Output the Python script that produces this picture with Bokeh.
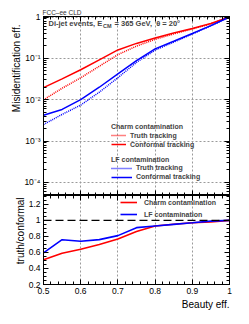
from bokeh.plotting import figure
from bokeh.layouts import column
from bokeh.models import (LogAxis, LinearAxis, LogTicker, SingleIntervalTicker, Range1d,
                          Label, Legend, LegendItem, Span, CustomJSTickFormatter, Title)
from bokeh.embed import file_html
from bokeh.resources import INLINE

# ---------------- data ----------------
beauty_eff = [0.5, 0.55, 0.6, 0.65, 0.7, 0.75, 0.8, 0.85, 0.9, 0.95, 1.0]
charm_conformal = [0.0195, 0.032, 0.053, 0.092, 0.16, 0.23, 0.31, 0.41, 0.53, 0.70, 1.0]
charm_truth = [0.0099, 0.0189, 0.0339, 0.0644, 0.123, 0.198, 0.288, 0.39, 0.514, 0.686, 1.0]
lf_conformal = [0.0042, 0.0058, 0.010, 0.020, 0.042, 0.088, 0.17, 0.26, 0.40, 0.62, 1.0]
lf_truth = [0.0025, 0.0044, 0.0074, 0.0152, 0.034, 0.080, 0.158, 0.247, 0.388, 0.614, 1.0]

x_ticks = [0.5, 0.6, 0.7, 0.8, 0.9, 1.0]
x_tick_labels = ["0.5", "0.6", "0.7", "0.8", "0.9", "1"]
top_y_ticks = [1e-4, 1e-3, 1e-2, 1e-1, 1.0]
top_y_tick_labels = ["10\u207b\u2074", "10\u207b\u00b3", "10\u207b\u00b2", "10\u207b\u00b9", "1"]
ratio_ticks = [0.2, 0.4, 0.6, 0.8, 1.0, 1.2]
ratio_tick_labels = ["0.2", "0.4", "0.6", "0.8", "1", "1.2"]

charm_ratio = [t / c for t, c in zip(charm_truth, charm_conformal)]
lf_ratio = [t / c for t, c in zip(lf_truth, lf_conformal)]

FONT = "Liberation Sans"
RED = "#ff0000"
BLUE = "#0000ff"
GRID = "#9a9a9a"


def fmt(tks, lbls, log=False):
    code = """
    for (let i = 0; i < tks.length; i++) {
        const a = uselog ? Math.log10(tks[i]) : tks[i];
        const b = uselog ? Math.log10(tick) : tick;
        if (Math.abs(a - b) < 1e-6) { return lbls[i]; }
    }
    return "";
    """
    return CustomJSTickFormatter(args=dict(tks=tks, lbls=lbls, uselog=log), code=code)


def style_axis(ax, show_labels, size="8.5px"):
    ax.axis_line_color = "black"
    ax.major_tick_in = 5
    ax.major_tick_out = 0
    ax.minor_tick_in = 3
    ax.minor_tick_out = 0
    ax.major_tick_line_color = "black"
    ax.minor_tick_line_color = "black"
    ax.major_label_text_font = FONT
    ax.major_label_text_color = "black"
    if show_labels:
        ax.major_label_text_font_size = size
        ax.major_label_standoff = 3
    else:
        ax.major_label_text_font_size = "1px"
        ax.major_label_text_alpha = 0
        ax.major_label_standoff = 0


def make_title(text, size="10px", style="normal", align="right", offset=0, standoff=0,
               color="black"):
    return Title(text=text, text_font=FONT, text_font_size=size, text_font_style=style,
                 align=align, offset=offset, standoff=standoff, text_color=color)


# ---------------- top panel ----------------
x_ticker = SingleIntervalTicker(interval=0.1, num_minor_ticks=5)
log_ticker = LogTicker(num_minor_ticks=10)

top = figure(width=241, height=195, x_range=Range1d(0.5, 1.0), y_range=Range1d(4.8e-5, 1.03),
             y_axis_type="log", output_backend="svg", toolbar_location=None,
             min_border_left=43, min_border_right=12, min_border_top=16, min_border_bottom=0)
top.outline_line_color = "black"
top.background_fill_color = "white"
top.border_fill_color = "white"

top.xaxis[0].ticker = x_ticker
style_axis(top.xaxis[0], False)
top.yaxis[0].ticker = log_ticker
top.yaxis[0].formatter = fmt(top_y_ticks, top_y_tick_labels, log=True)
style_axis(top.yaxis[0], True)

ax_r = LogAxis(ticker=log_ticker)
style_axis(ax_r, False)
top.add_layout(ax_r, "right")
ax_t = LinearAxis(ticker=x_ticker)
style_axis(ax_t, False)
top.add_layout(ax_t, "above")

top.xgrid[0].ticker = x_ticker
top.ygrid[0].ticker = log_ticker
for g in (top.xgrid[0], top.ygrid[0]):
    g.grid_line_color = GRID
    g.grid_line_dash = "2 2"
    g.grid_line_width = 1

r_ct = top.line(beauty_eff, charm_truth, line_color=RED, line_width=1.5, line_dash="1 1")
r_cc = top.line(beauty_eff, charm_conformal, line_color=RED, line_width=1.5)
r_lt = top.line(beauty_eff, lf_truth, line_color=BLUE, line_width=1.5, line_dash="1 1")
r_lc = top.line(beauty_eff, lf_conformal, line_color=BLUE, line_width=1.5)


def make_legend(title, items, loc, glyph_w):
    lg = Legend(items=items, title=title, location=loc)
    lg.title_text_font = FONT
    lg.title_text_font_size = "7px"
    lg.title_text_font_style = "bold"
    lg.title_standoff = 1
    lg.label_text_font = FONT
    lg.label_text_font_size = "7px"
    lg.label_text_font_style = "bold"
    lg.glyph_width = glyph_w
    lg.glyph_height = 8
    lg.label_height = 8
    lg.label_standoff = 4
    lg.spacing = 1
    lg.padding = 0
    lg.margin = 0
    lg.border_line_color = None
    lg.background_fill_alpha = 0
    return lg


leg1 = make_legend("Charm contamination",
                   [LegendItem(label="Truth tracking", renderers=[r_ct]),
                    LegendItem(label="Conformal tracking", renderers=[r_cc])], (68, 47), 15)
leg2 = make_legend("LF contamination",
                   [LegendItem(label="Truth tracking", renderers=[r_lt]),
                    LegendItem(label="Conformal tracking", renderers=[r_lc])], (68, 14.5), 21)
top.add_layout(leg1)
top.add_layout(leg2)

top.add_layout(Label(x=5, y=172, x_units="screen", y_units="screen", text="Di-jet events, E",
                     text_font=FONT, text_font_size="7.5px", text_font_style="bold",
                     text_baseline="middle"))
top.add_layout(Label(x=59.5, y=169.5, x_units="screen", y_units="screen", text="CM",
                     text_font=FONT, text_font_size="5.5px", text_font_style="bold",
                     text_baseline="middle"))
top.add_layout(Label(x=71, y=172, x_units="screen", y_units="screen",
                     text="= 365 GeV,\u00a0\u00a0\u03b8 = 20\u00b0",
                     text_font=FONT, text_font_size="7.5px", text_font_style="bold",
                     text_baseline="middle"))

top.add_layout(make_title("FCC\u2013ee CLD", size="6.5px", align="left", offset=-1, standoff=2,
                          color="#333333"), "above")
top.add_layout(make_title("Misidentification eff.", align="right", offset=8), "left")

# ---------------- ratio panel ----------------
bot = figure(width=241, height=115, x_range=Range1d(0.5, 1.0), y_range=Range1d(0.2, 1.31),
             output_backend="svg", toolbar_location=None,
             min_border_left=43, min_border_right=12, min_border_top=0, min_border_bottom=26)
bot.outline_line_color = "black"
bot.background_fill_color = "white"
bot.border_fill_color = "white"

bot.xaxis[0].ticker = x_ticker
bot.xaxis[0].formatter = fmt(x_ticks, x_tick_labels)
style_axis(bot.xaxis[0], True)
r_ticker = SingleIntervalTicker(interval=0.2, num_minor_ticks=4)
bot.yaxis[0].ticker = r_ticker
bot.yaxis[0].formatter = fmt(ratio_ticks, ratio_tick_labels)
style_axis(bot.yaxis[0], True)
bax_r = LinearAxis(ticker=r_ticker)
style_axis(bax_r, False)
bot.add_layout(bax_r, "right")
bax_t = LinearAxis(ticker=x_ticker)
style_axis(bax_t, False)
bot.add_layout(bax_t, "above")

bot.xgrid[0].ticker = x_ticker
bot.xgrid[0].grid_line_color = GRID
bot.xgrid[0].grid_line_dash = "2 2"
bot.ygrid[0].grid_line_color = None

bot.add_layout(Span(location=1.0, dimension="width", line_color="black", line_width=1.2,
                    line_dash="8 4"))

p_c = bot.line(beauty_eff, charm_ratio, line_color=RED, line_width=1.6)
p_l = bot.line(beauty_eff, lf_ratio, line_color=BLUE, line_width=1.6)

leg3 = Legend(items=[LegendItem(label="Charm contamination", renderers=[p_c]),
                     LegendItem(label="LF contamination", renderers=[p_l])], location=(77, 65))
leg3.label_text_font = FONT
leg3.label_text_font_size = "7px"
leg3.label_text_font_style = "bold"
leg3.glyph_width = 17
leg3.glyph_height = 10
leg3.label_height = 10
leg3.label_standoff = 7
leg3.spacing = 2
leg3.padding = 0
leg3.margin = 0
leg3.border_line_color = None
leg3.background_fill_alpha = 0
bot.add_layout(leg3)

bot.add_layout(make_title("Beauty eff.", align="right", offset=0, standoff=0), "below")
bot.add_layout(make_title("truth/conformal", align="right", offset=2), "left")

layout = column(top, bot, spacing=0)
open("out.html", "w").write(file_html(layout, INLINE))
